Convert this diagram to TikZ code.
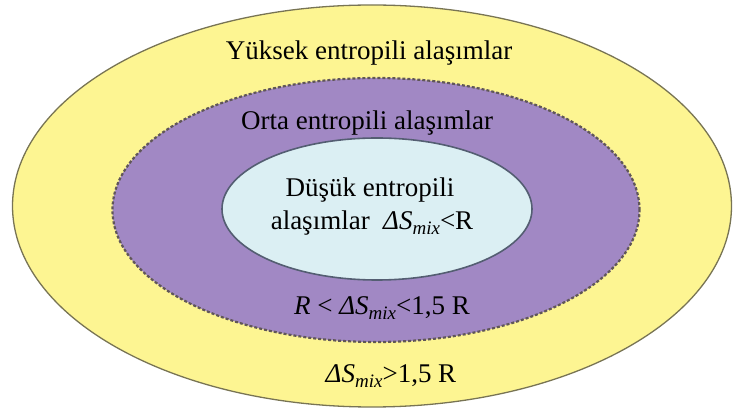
\documentclass[tikz,border=0pt]{standalone}
\usepackage{fontspec}
\setmainfont{Liberation Serif}
\usetikzlibrary{shapes.geometric}
\definecolor{highfill}{RGB}{253,245,146}
\definecolor{highline}{RGB}{120,116,84}
\definecolor{midfill}{RGB}{161,136,196}
\definecolor{midline}{RGB}{96,86,88}
\definecolor{lowfill}{RGB}{219,239,243}
\definecolor{lowline}{RGB}{84,94,114}
% italic Delta S with a low "mix" index
\newcommand\dSmix{{\itshape ΔS}\raisebox{-0.35ex}{\fontsize{19}{19}\selectfont\itshape mix}}

\begin{document}
\begin{tikzpicture}[x=1pt, y=-1pt, line width=1.3pt,
    zone/.style={ellipse, inner sep=0pt},
    lab/.style={inner sep=0pt, anchor=base, font=\fontsize{27}{30}\selectfont}]
  \useasboundingbox (0,0) rectangle (734,419);
  % ---- nested regions -------------------------------------------------
  \node[zone, fill=highfill, draw=highline, minimum width=719, minimum height=402]
    (high) at (372,206) {};
  \node[zone, fill=midfill, draw=midline, dash pattern=on 3pt off 2pt, line width=2.2pt,
    minimum width=527, minimum height=264] (mid) at (376,210) {};
  \node[zone, fill=lowfill, draw=lowline, line width=1.6pt,
    minimum width=310, minimum height=142] (low) at (377,209) {};
  % ---- labels -----------------------------------------------------------
  \node[lab] (highname) at (369,60)  {Yüksek entropili alaşımlar};
  \node[lab] (midname)  at (367,130) {Orta entropili alaşımlar};
  \node[lab] (lowname)  at (370,197) {Düşük entropili};
  \node[lab] (lowrange) at (372,230) {alaşımlar\ \ \dSmix<R};
  \node[lab] (midrange) at (382,315) {\textit{R} < \dSmix<1,5 R};
  \node[lab] (highrange) at (391,383) {\dSmix>1,5 R};
\end{tikzpicture}
\end{document}
